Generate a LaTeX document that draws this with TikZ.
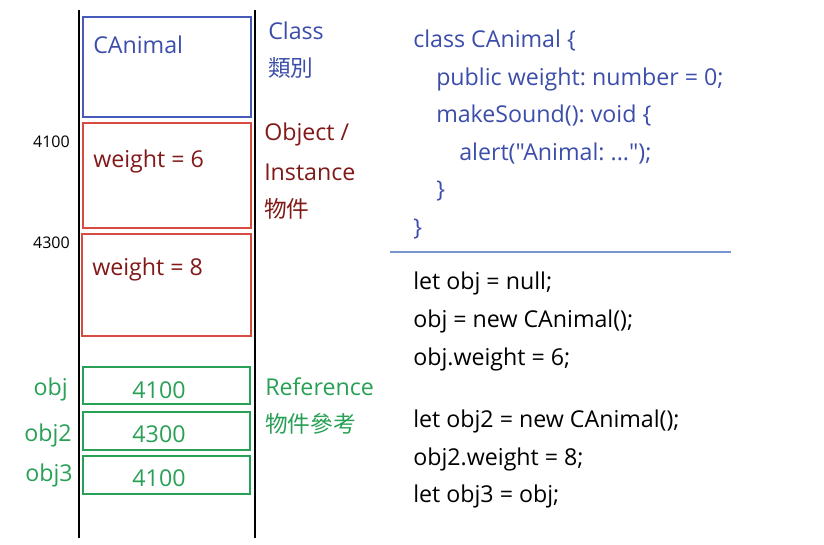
\documentclass[tikz,border=0pt]{standalone}
\usepackage{fontspec}
\setmainfont{Open Sans}[Ligatures=TeXOff]
\newfontfamily\cjk{Noto Sans CJK TC}
\definecolor{cblue}{RGB}{60,78,170}
\definecolor{bblue}{RGB}{70,90,185}
\definecolor{bred}{RGB}{215,75,65}
\definecolor{tred}{RGB}{130,25,25}
\definecolor{cgreen}{RGB}{40,160,85}
\definecolor{lblue}{RGB}{120,150,205}
\frenchspacing
\begin{document}
\begin{tikzpicture}[x=0.75pt,y=-0.75pt,
  txt/.style={anchor=west,inner sep=0pt,font=\frenchspacing\fontsize{17.4}{19}\selectfont},
  small/.style={anchor=east,inner sep=0pt,font=\fontsize{12}{14}\selectfont},
  cjkt/.style={anchor=west,inner sep=0pt,font=\cjk\fontsize{17}{19}\selectfont},
  memline/.style={draw=black,line width=1.5pt},
  clsbox/.style={draw=bblue,line width=1.3pt},
  objbox/.style={draw=bred,line width=1.3pt},
  refbox/.style={draw=cgreen,line width=1.3pt}]
\useasboundingbox (0,0) rectangle (824,545);
\fill[white] (0,0) rectangle (824,545);
% memory column
\coordinate (l1) at (79,10); \coordinate (l1b) at (79,538);
\coordinate (l2) at (255,10); \coordinate (l2b) at (255,538);
\draw[memline] (l1) -- (l1b);
\draw[memline] (l2) -- (l2b);
% boxes
\draw[clsbox] (83,17) rectangle (251,117);
\draw[objbox] (83,123) rectangle (251,228);
\draw[objbox] (82,234) rectangle (251,336);
\draw[refbox] (83,367) rectangle (250,404);
\draw[refbox] (83,412) rectangle (250,450);
\draw[refbox] (83,456) rectangle (250,494);
% box texts
\node[txt,text=cblue] (cls) at (93,45) {CAnimal};
\node[txt,text=tred] (w6) at (93,161) {weight = 6};
\node[txt,text=tred] (w8) at (92,269) {weight = 8};
\node[txt,text=cgreen,anchor=center] (r1) at (159,390) {4100};
\node[txt,text=cgreen,anchor=center] (r2) at (159,434) {4300};
\node[txt,text=cgreen,anchor=center] (r3) at (159,478) {4100};
% addresses
\node[small] (a1) at (70,142) {4100};
\node[small] (a2) at (70,243) {4300};
\node[txt,anchor=east,text=cgreen] (n1) at (68,389) {obj};
\node[txt,anchor=east,text=cgreen] (n2) at (72,435) {obj2};
\node[txt,anchor=east,text=cgreen] (n3) at (73,475) {obj3};
% right labels
\node[txt,text=cblue] (lc) at (268,31) {Class};
\node[cjkt,text=cblue] (lc2) at (268,68) {類別};
\node[txt,text=tred] (lo) at (264,134) {Object /};
\node[txt,text=tred] (lo2) at (264,172) {Instance};
\node[cjkt,text=tred] (lo3) at (264,209) {物件};
\node[txt,text=cgreen] (lr) at (265,387) {Reference};
\node[cjkt,text=cgreen] (lr2) at (265,424) {物件參考};
% class code
\node[txt,text=cblue] (c1) at (413,41) {class CAnimal \{};
\node[txt,text=cblue] (c2) at (436,79) {public weight: number = 0;};
\node[txt,text=cblue] (c3) at (436,116) {makeSound(): void \{};
\node[txt,text=cblue] (c4) at (459,154) {alert("Animal: ...");};
\node[txt,text=cblue] (c5) at (436,191) {\}};
\node[txt,text=cblue] (c6) at (413,229) {\}};
\coordinate (s1) at (390,252); \coordinate (s2) at (731,252);
\draw[lblue,line width=1.3pt] (s1) -- (s2);
% usage code
\node[txt] (d1) at (413,283) {let obj = null;};
\node[txt] (d2) at (413,321) {obj = new CAnimal();};
\node[txt] (d3) at (413,359) {obj.weight = 6;};
\node[txt] (d4) at (413,421) {let obj2 = new CAnimal();};
\node[txt] (d5) at (413,459) {obj2.weight = 8;};
\node[txt] (d6) at (413,496) {let obj3 = obj;};
\end{tikzpicture}
\end{document}
